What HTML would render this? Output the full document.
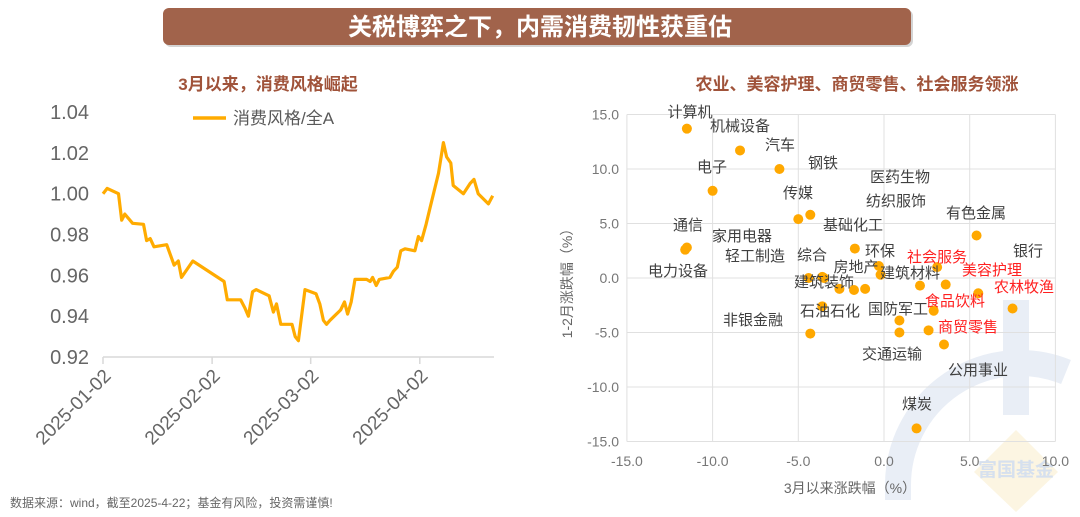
<!DOCTYPE html>
<html><head><meta charset="utf-8">
<style>
html,body{margin:0;padding:0;background:#fff;}
body{width:1080px;height:517px;overflow:hidden;font-family:"Liberation Sans","Noto Sans CJK SC",sans-serif;}
svg{display:block;}
svg text{font-family:"Liberation Sans","Noto Sans CJK SC",sans-serif;}
</style></head>
<body>
<svg id="root" width="1080" height="517" viewBox="0 0 1080 517">
  <g>
    <path d="M 898 500 L 898 485 A 122 122 0 0 1 1066 372" fill="none" stroke="#e9eef6" stroke-width="26"/>
    <rect x="1003" y="300" width="26" height="115" fill="#e9eef6"/>
    <polygon points="1016,430 1058,472 1016,512 974,472" fill="#fcf5e2"/>
    <text x="1016" y="476" font-size="19" font-weight="bold" fill="#d6e0ee" text-anchor="middle">富国基金</text>
  </g>
  <rect x="165" y="10" width="748" height="37" rx="6" fill="#555" opacity="0.25"/>
  <rect x="163" y="8" width="748" height="37" rx="6" fill="#a1634b"/>
  <text x="540" y="35" font-size="24" font-weight="bold" fill="#fff" text-anchor="middle">关税博弈之下，内需消费韧性获重估</text>
  <text x="268" y="90" font-size="17" font-weight="bold" fill="#a0533a" text-anchor="middle">3月以来，消费风格崛起</text>
  <text x="857" y="90" font-size="17" font-weight="bold" fill="#a0533a" text-anchor="middle">农业、美容护理、商贸零售、社会服务领涨</text>
  <text x="10" y="507" font-size="12" fill="#666">数据来源：wind，截至2025-4-22；基金有风险，投资需谨慎!</text>
  <g id="left"></g>
  <g id="right"></g>
</svg>
<script>
// ---------- left line chart data ----------
const lineDays = [0,1.2,4.4,5.3,6.2,8.4,11.5,12.4,13.4,14.5,18.1,20.2,21.4,22.3,25.5,34.4,35.3,39.1,40.3,41.3,42.5,43.5,47.2,48.4,49.3,50.5,53.7,54.6,55.5,57.4,60.5,61.6,62.6,63.5,64.5,67.5,68.6,69.5,70.5,71.6,74.9,75.9,76.6,77.6,78.5,81.5,82.5,83.6,84.6,85.8,88.6,89.6,90.5,91.8,92.9,95.3,96.7,97.6,98.8,99.5,102.4,104.3,105.4,106.6,109.5,110.7];
const lineValues = [1.000,1.0026,1.000,0.987,0.990,0.9855,0.985,0.977,0.978,0.974,0.975,0.965,0.967,0.959,0.967,0.957,0.948,0.948,0.944,0.940,0.952,0.953,0.950,0.942,0.946,0.936,0.936,0.930,0.928,0.953,0.951,0.946,0.938,0.936,0.938,0.943,0.947,0.941,0.947,0.958,0.958,0.957,0.959,0.955,0.958,0.959,0.962,0.964,0.972,0.973,0.972,0.979,0.977,0.985,0.993,1.010,1.025,1.018,1.015,1.004,1.000,1.005,1.007,1.000,0.995,0.999];
const yTicks = [0.92,0.94,0.96,0.98,1.00,1.02,1.04];
const xTickDays = [0,31,59,90];
const xTickLabels = ["2025-01-02","2025-02-02","2025-03-02","2025-04-02"];
// ---------- right scatter data ----------
const sectors = ["计算机","机械设备","汽车","电子","钢铁","传媒","通信","电力设备","基础化工","有色金属","社会服务","环保","房地产","综合","家用电器","轻工制造","建筑装饰","纺织服饰","医药生物","建筑材料","银行","美容护理","农林牧渔","食品饮料","国防军工","商贸零售","交通运输","石油石化","非银金融","公用事业","煤炭"];
const marchChg = [-11.5,-8.4,-6.1,-10.0,-4.3,-5.0,-11.5,-11.6,-1.7,5.4,3.1,-0.3,-0.2,-3.6,-3.5,-4.4,-2.6,-1.75,-1.1,2.1,3.6,5.5,7.5,2.9,0.9,2.6,0.9,-3.6,-4.3,3.5,1.9];
const janFebChg = [13.7,11.7,10.0,8.0,5.8,5.4,2.8,2.6,2.7,3.9,1.0,1.1,0.3,0.1,0.0,0.0,-1.0,-1.1,-1.0,-0.7,-0.6,-1.4,-2.8,-3.0,-3.9,-4.8,-5.0,-2.6,-5.1,-6.1,-13.8];
const scatterXTicks = [-15,-10,-5,0,5,10];
const scatterYTicks = [-15,-10,-5,0,5,10,15];

const NS="http://www.w3.org/2000/svg";
function mk(tag,attrs,parent,txt){const e=document.createElementNS(NS,tag);for(const k in attrs)e.setAttribute(k,attrs[k]);if(txt!==undefined)e.textContent=txt;parent.appendChild(e);return e;}

const L=document.getElementById('left');
const lx=d=>103+d*3.52;
const ly=v=>357-(v-0.92)/0.12*245;
yTicks.forEach(t=>{
  const e=mk('text',{x:89,y:ly(t)+7,'font-size':20,fill:'#666','text-anchor':'end'},L,t.toFixed(2));
  
  
});
const ax=mk('line',{x1:103,y1:357,x2:494,y2:357,stroke:'#d9d9d9','stroke-width':1.5},L);


xTickDays.forEach((d,i)=>{
  const tk=mk('line',{x1:lx(d),y1:357,x2:lx(d),y2:364,stroke:'#d9d9d9','stroke-width':1.5},L);
  
  
  const t=mk('text',{x:0,y:0,'font-size':19,fill:'#666','text-anchor':'end',transform:`translate(${lx(d)+9},${377}) rotate(-45)`},L,xTickLabels[i]);
  
  
});
const pts=lineDays.map((d,i)=>lx(d).toFixed(1)+','+ly(lineValues[i]).toFixed(1)).join(' ');
const pl=mk('polyline',{points:pts,fill:'none',stroke:'#ffab00','stroke-width':3.2,'stroke-linejoin':'round'},L);


const lg=mk('line',{x1:193,y1:118,x2:226,y2:118,stroke:'#ffab00','stroke-width':3.5},L);


const lt=mk('text',{x:233,y:124,'font-size':17,fill:'#595959'},L,'消费风格/全A');



const R=document.getElementById('right');
const sx=v=>884+v*17.14;
const sy=v=>278-v*10.9;
scatterXTicks.forEach(t=>{
  const g=mk('line',{x1:sx(t),y1:sy(15),x2:sx(t),y2:sy(-15),stroke:'#e0e0e0','stroke-width':1},R);
  
  
  const tl=mk('text',{x:sx(t),y:466,'font-size':14,fill:'#777','text-anchor':'middle'},R,t.toFixed(1));
  
  
});
scatterYTicks.forEach(t=>{
  const g=mk('line',{x1:sx(-15),y1:sy(t),x2:sx(10),y2:sy(t),stroke:'#e0e0e0','stroke-width':1},R);
  
  
  const tl=mk('text',{x:619,y:sy(t)+5,'font-size':14,fill:'#777','text-anchor':'end'},R,t.toFixed(1));
  
  
});
const xt=mk('text',{x:850,y:493,'font-size':14,fill:'#666','text-anchor':'middle'},R,'3月以来涨跌幅（%）');


const yt=mk('text',{x:0,y:0,'font-size':14,fill:'#666','text-anchor':'middle',transform:'translate(572,280) rotate(-90)'},R,'1-2月涨跌幅（%）');



const red={"社会服务":1,"美容护理":1,"农林牧渔":1,"食品饮料":1,"商贸零售":1};
const labelPos={"计算机":[690,117],"机械设备":[740,131],"汽车":[780,150],"电子":[712,172],"钢铁":[823,168],"传媒":[798,198],"通信":[688,230],"电力设备":[678,276],"基础化工":[853,230],"有色金属":[976,218],"社会服务":[937,262],"环保":[880,256],"房地产":[856,272],"综合":[812,260],"家用电器":[742,241],"轻工制造":[755,261],"建筑装饰":[824,287],"纺织服饰":[896,206],"医药生物":[900,182],"建筑材料":[910,278],"银行":[1028,256],"美容护理":[992,275],"农林牧渔":[1024,292],"食品饮料":[955,306],"国防军工":[898,314],"商贸零售":[968,332],"交通运输":[892,359],"石油石化":[830,316],"非银金融":[753,325],"公用事业":[978,375],"煤炭":[917,409]};
sectors.forEach((s,i)=>{
  const c=mk('circle',{cx:sx(marchChg[i]),cy:sy(janFebChg[i]),r:5,fill:'#ffa800'},R);
  
  
  const p=labelPos[s];
  const t=mk('text',{x:p[0],y:p[1],'font-size':15,fill:red[s]?'#ff2020':'#404040','text-anchor':'middle'},R,s);
  
  
});
</script>
</body></html>
